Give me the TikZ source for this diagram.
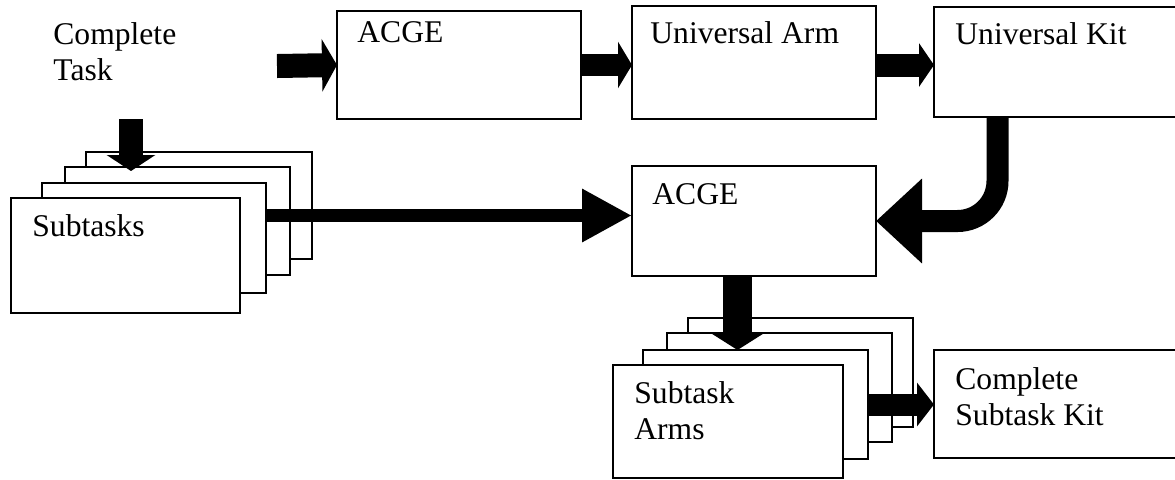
\documentclass[tikz,border=0pt]{standalone}
\usepackage{fontspec}
\setmainfont{Liberation Serif}
\usetikzlibrary{arrows.meta,calc}
\begin{document}
\begin{tikzpicture}[x=0.5pt,y=-0.5pt,
  box/.style={draw,line width=0.8pt,fill=white,inner sep=0pt,outer sep=0pt,anchor=north west},
  lbl/.style={anchor=base west,inner sep=0pt,align=left,font=\fontsize{15.8}{18}\selectfont},
  big/.style n args={3}{line width=#1,-{Triangle[length=#2,width=#3]}}
]
\useasboundingbox (0,0) rectangle (1175,479);
\clip (0,0) rectangle (1175,479);
\newcommand\boxat[5]{\node[box,minimum width=#4*0.5pt,minimum height=#5*0.5pt] (#1) at (#2,#3) {};}
% top row
\boxat{acge1}{337}{11}{244}{108}
\boxat{uarm}{632}{6}{244}{113}
\boxat{ukit}{934}{7}{260}{110}
% subtasks stack
\boxat{sub4}{86}{152}{226}{107}
\boxat{sub3}{65}{167}{225}{108}
\boxat{sub2}{42}{183}{224}{110}
\boxat{sub1}{11}{198}{229}{115}
% middle
\boxat{acge2}{632}{166}{244}{110}
% subtask arms stack
\boxat{sa4}{688}{318}{225}{109}
\boxat{sa3}{667}{333}{225}{109}
\boxat{sa2}{643}{350}{225}{109}
\boxat{sa1}{613}{365}{230}{113}
\boxat{csk}{934}{350}{260}{108}
% texts (multi-line nodes: base anchor is on the last line)
\node[lbl] (ct) at (53,80) {Complete\\Task};
\node[lbl] (t1) at (357,42) {ACGE};
\node[lbl] (t2) at (650,43) {Universal Arm};
\node[lbl] (t3) at (955,44) {Universal Kit};
\node[lbl] (t4) at (32,236) {Subtasks};
\node[lbl] (t5) at (652,204) {ACGE};
\node[lbl] (t6) at (634,439) {Subtask\\Arms};
\node[lbl] (t7) at (955,425) {Complete\\Subtask Kit};
% connectors
\coordinate (in1) at (277,66);
\draw[big={12pt}{7.5pt}{26pt}] (in1) -- (acge1.west);
\draw[big={11pt}{7pt}{23pt}] (acge1.east) -- (acge1.east -| uarm.west);
\draw[big={11.5pt}{7.5pt}{21.5pt}] (uarm.east |- acge1.east) -- (ukit.west |- acge1.east);
\coordinate (ctout) at (131,119);
\coordinate (ctin) at (131,171);
\draw[big={12pt}{8pt}{24pt}] (ctout) -- (ctin);
\coordinate (s2) at ($(acge2.north west)!0.45!(acge2.south west)$);
\draw[big={6.5pt}{25pt}{25pt}] (sub2.east |- s2) -- (s2);
\coordinate (kitout) at ($(ukit.south west)+(63.5,0)$);
\draw[big={11pt}{23pt}{41pt},rounded corners=20pt] (kitout) |- (acge2.east);
\coordinate (dtop) at ($(acge2.south)+(-16.5,0)$);
\draw[big={14.5pt}{9pt}{28pt}] (dtop) -- (dtop |- sa2.north);
\draw[big={11pt}{8.5pt}{21.5pt}] (sa2.east) -- (sa2.east -| csk.west);
\end{tikzpicture}
\end{document}
